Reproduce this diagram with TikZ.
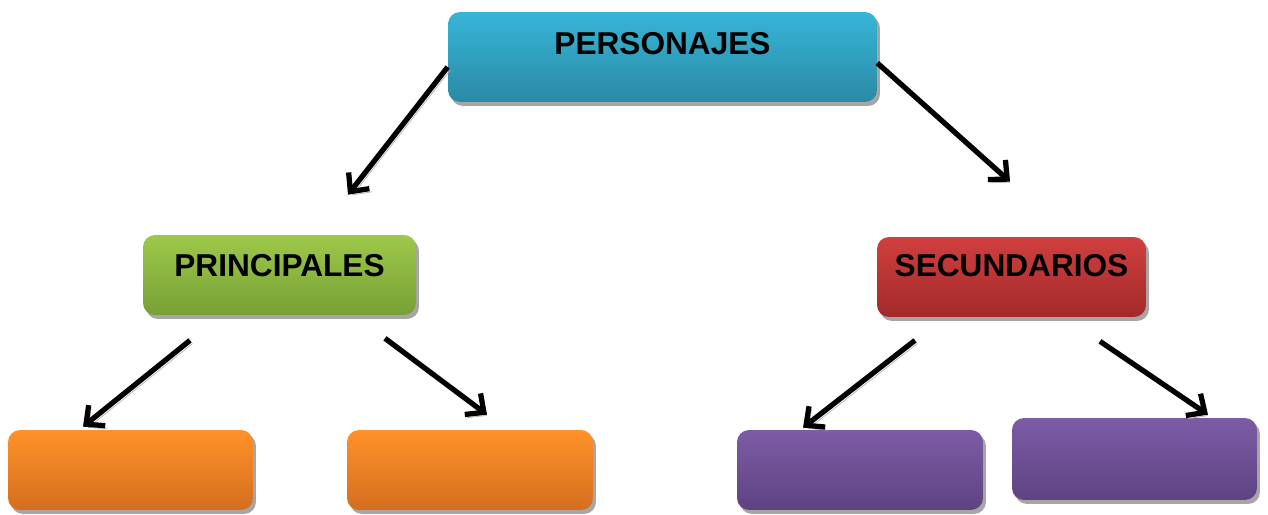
\documentclass[tikz,border=0pt]{standalone}
\usepackage{fontspec}
\setmainfont{Liberation Sans}
\usetikzlibrary{arrows.meta, positioning, calc, shadows}

\definecolor{cyanTop}{HTML}{37B5D7}
\definecolor{cyanBot}{HTML}{2A8AA5}
\definecolor{greenTop}{HTML}{9DC94A}
\definecolor{greenBot}{HTML}{77A034}
\definecolor{redTop}{HTML}{D13F3F}
\definecolor{redBot}{HTML}{A22A2A}
\definecolor{orangeTop}{HTML}{FF9229}
\definecolor{orangeBot}{HTML}{D46E1F}
\definecolor{purpleTop}{HTML}{7D5BA6}
\definecolor{purpleBot}{HTML}{5E4382}

\begin{document}
\begin{tikzpicture}[x=0.02cm, y=-0.02cm,
    box/.style={rounded corners=0.24cm, minimum height=1.6cm, inner sep=0pt,
      drop shadow={shadow xshift=0.06cm, shadow yshift=-0.08cm, fill=black!35, opacity=1}},
    title/.style={font=\bfseries\fontsize{18}{20}\selectfont, inner sep=0pt},
    arr/.style={line width=3pt, -{Straight Barb[length=8pt, width=15pt]},
      preaction={draw=black!30, transform canvas={shift={(1.4pt,-1.8pt)}}}}]
    % Frame
    \useasboundingbox (0,0) rectangle (1268,514);
    % Top box
    \node[box, top color=cyanTop, bottom color=cyanBot, minimum width=8.58cm, minimum height=1.8cm] (personajes) at (662.5,57) {};
    \node[title] (personajesTxt) at ([yshift=0.26cm]personajes.center) {PERSONAJES};
    % Second level
    \node[box, top color=greenTop, bottom color=greenBot, minimum width=5.46cm] (principales) at (279.5,275) {};
    \node[title] (principalesTxt) at ([yshift=0.18cm]principales.center) {PRINCIPALES};
    \node[box, top color=redTop, bottom color=redBot, minimum width=5.38cm] (secundarios) at (1011.5,277) {};
    \node[title] (secundariosTxt) at ([yshift=0.22cm]secundarios.center) {SECUNDARIOS};
    % Bottom boxes
    \node[box, top color=orangeTop, bottom color=orangeBot, minimum width=4.9cm] (princA) at (130.5,470) {};
    \node[box, top color=orangeTop, bottom color=orangeBot, minimum width=4.92cm] (princB) at (470,470) {};
    \node[box, top color=purpleTop, bottom color=purpleBot, minimum width=4.92cm] (secA) at (860,470) {};
    \node[box, top color=purpleTop, bottom color=purpleBot, minimum width=4.9cm, minimum height=1.64cm] (secB) at (1134.5,459) {};
    % Arrows from top
    \draw[arr] ([yshift=-0.2cm]personajes.west) -- ([xshift=1.37cm, yshift=0.8cm]principales.north);
    \draw[arr] ([yshift=-0.12cm]personajes.east) -- ([xshift=-0.03cm, yshift=1.1cm]secundarios.north);
    % Arrows from second level
    \draw[arr] ([xshift=-1.79cm, yshift=-0.5cm]principales.south) -- ([xshift=-0.95cm, yshift=0.06cm]princA.north);
    \draw[arr] ([xshift=2.11cm, yshift=-0.46cm]principales.south) -- ([xshift=0.34cm, yshift=0.3cm]princB.north);
    \draw[arr] ([xshift=-1.93cm, yshift=-0.46cm]secundarios.south) -- ([xshift=-1.14cm, yshift=0.04cm]secA.north);
    \draw[arr] ([xshift=1.77cm, yshift=-0.48cm]secundarios.south) -- ([xshift=1.47cm, yshift=0.06cm]secB.north);
\end{tikzpicture}
\end{document}
